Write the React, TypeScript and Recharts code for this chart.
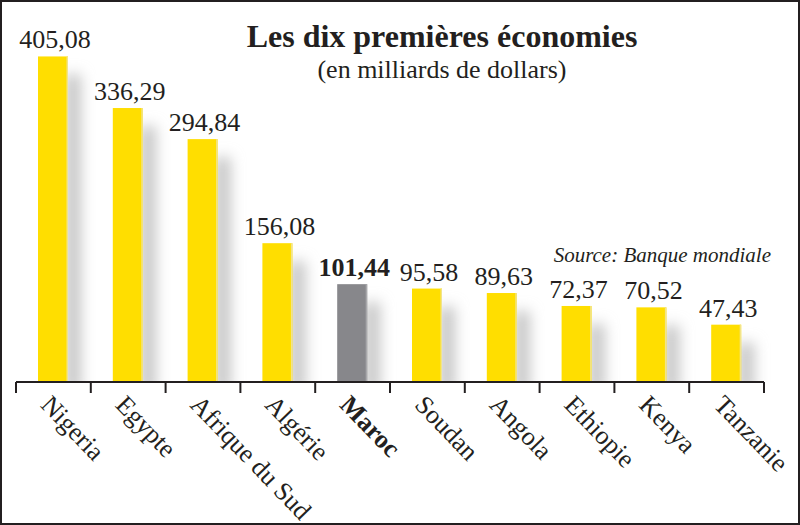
import React from "react";
import { BarChart, Bar, XAxis, YAxis, LabelList } from "recharts";

const categories = ["Nigeria", "Egypte", "Afrique du Sud", "Algérie", "Maroc", "Soudan", "Angola", "Ethiopie", "Kenya", "Tanzanie"];
const values = [405.08, 336.29, 294.84, 156.08, 101.44, 95.58, 89.63, 72.37, 70.52, 47.43];
const highlighted = "Maroc";
const title = "Les dix premières économies";
const subtitle = "(en milliards de dollars)";
const source = "Source: Banque mondiale";

const data = categories.map((name, i) => ({ name, value: values[i], hi: name === highlighted }));

const W = 800;
const H = 525;
const MARGIN = { top: 40, right: 36, left: 16, bottom: 0 };
const XAXIS_H = 143;
const PLOT_BOTTOM = H - XAXIS_H;
const BAND = (W - MARGIN.left - MARGIN.right) / categories.length;
const INK = "#231f20";
const YELLOW = "#FFDE00";
const GRAY = "#87878b";
const FONT = "'Liberation Serif', 'Times New Roman', serif";

const BarShape = (props: any) => {
  const { x, y, width, payload, background } = props;
  const bottom = background && background.height ? background.y + background.height : PLOT_BOTTOM;
  const fill = payload.hi ? GRAY : YELLOW;
  const edge = payload.hi ? "#a8a8ab" : "#f2e489";
  const h = bottom - y;
  return (
    <g>
      <defs>
        <filter id="shBlur" x="-200%" y="-50%" width="500%" height="200%">
          <feGaussianBlur stdDeviation="7" />
        </filter>
      </defs>
      <rect x={x + width - 3} y={y + 18} width={16} height={Math.max(0, h - 8)} fill="#c6c6c6" filter="url(#shBlur)" />
      <rect x={x} y={y} width={width} height={h} fill={fill} />
      <rect x={x + width - 1.5} y={y} width={1.5} height={h} fill={edge} />
    </g>
  );
};

const ValueLabel = (props: any) => {
  const { x, y, width, value, index } = props;
  const bold = data[index] && data[index].hi;
  return (
    <text
      x={x + width / 2 + 2}
      y={y - 8}
      textAnchor="middle"
      fontFamily={FONT}
      fontSize={26}
      fontWeight={bold ? "bold" : "normal"}
      fill={INK}
    >
      {Number(value).toFixed(2).replace(".", ",")}
    </text>
  );
};

const Tick = (props: any) => {
  const { x, y, payload, index } = props;
  const bold = payload.value === highlighted;
  const last = index === categories.length - 1;
  const tx = x - 14;
  const ty = y + 24;
  return (
    <g>
      <line x1={x - BAND / 2} x2={x - BAND / 2} y1={y} y2={y + 11} stroke={INK} strokeWidth={2} />
      {last && <line x1={x + BAND / 2} x2={x + BAND / 2} y1={y} y2={y + 11} stroke={INK} strokeWidth={2} />}
      <text
        x={tx}
        y={ty}
        transform={`rotate(46 ${tx} ${ty})`}
        textAnchor="start"
        fontFamily={FONT}
        fontSize={26}
        fontWeight={bold ? "bold" : "normal"}
        fill={INK}
      >
        {payload.value}
      </text>
    </g>
  );
};

export default function App() {
  return (
    <div style={{ position: "absolute", left: 0, top: 0, width: W, height: H, background: "#fff" }}>
      <BarChart width={W} height={H} data={data} margin={MARGIN}>
        <YAxis hide type="number" domain={[-29, 427]} allowDataOverflow />
        <XAxis
          dataKey="name"
          height={XAXIS_H}
          interval={0}
          tickLine={false}
          tickSize={0}
          tickMargin={0}
          axisLine={{ stroke: INK, strokeWidth: 2 }}
          tick={<Tick />}
        />
        <Bar dataKey="value" barSize={30} shape={<BarShape />} isAnimationActive={false}>
          <LabelList dataKey="value" content={<ValueLabel />} />
        </Bar>
      </BarChart>
      <svg width={W} height={H} style={{ position: "absolute", left: 0, top: 0, pointerEvents: "none" }}>
        <text x={442} y={47} textAnchor="middle" fontFamily={FONT} fontSize={32} fontWeight="bold" fill={INK}>
          {title}
        </text>
        <text x={442} y={78} textAnchor="middle" fontFamily={FONT} fontSize={26} fill={INK}>
          {subtitle}
        </text>
        <text x={771} y={262} textAnchor="end" fontFamily={FONT} fontSize={21} fontStyle="italic" fill={INK}>
          {source}
        </text>
        <rect x={1} y={1} width={W - 2} height={H - 2} fill="none" stroke={INK} strokeWidth={2} />
      </svg>
    </div>
  );
}
